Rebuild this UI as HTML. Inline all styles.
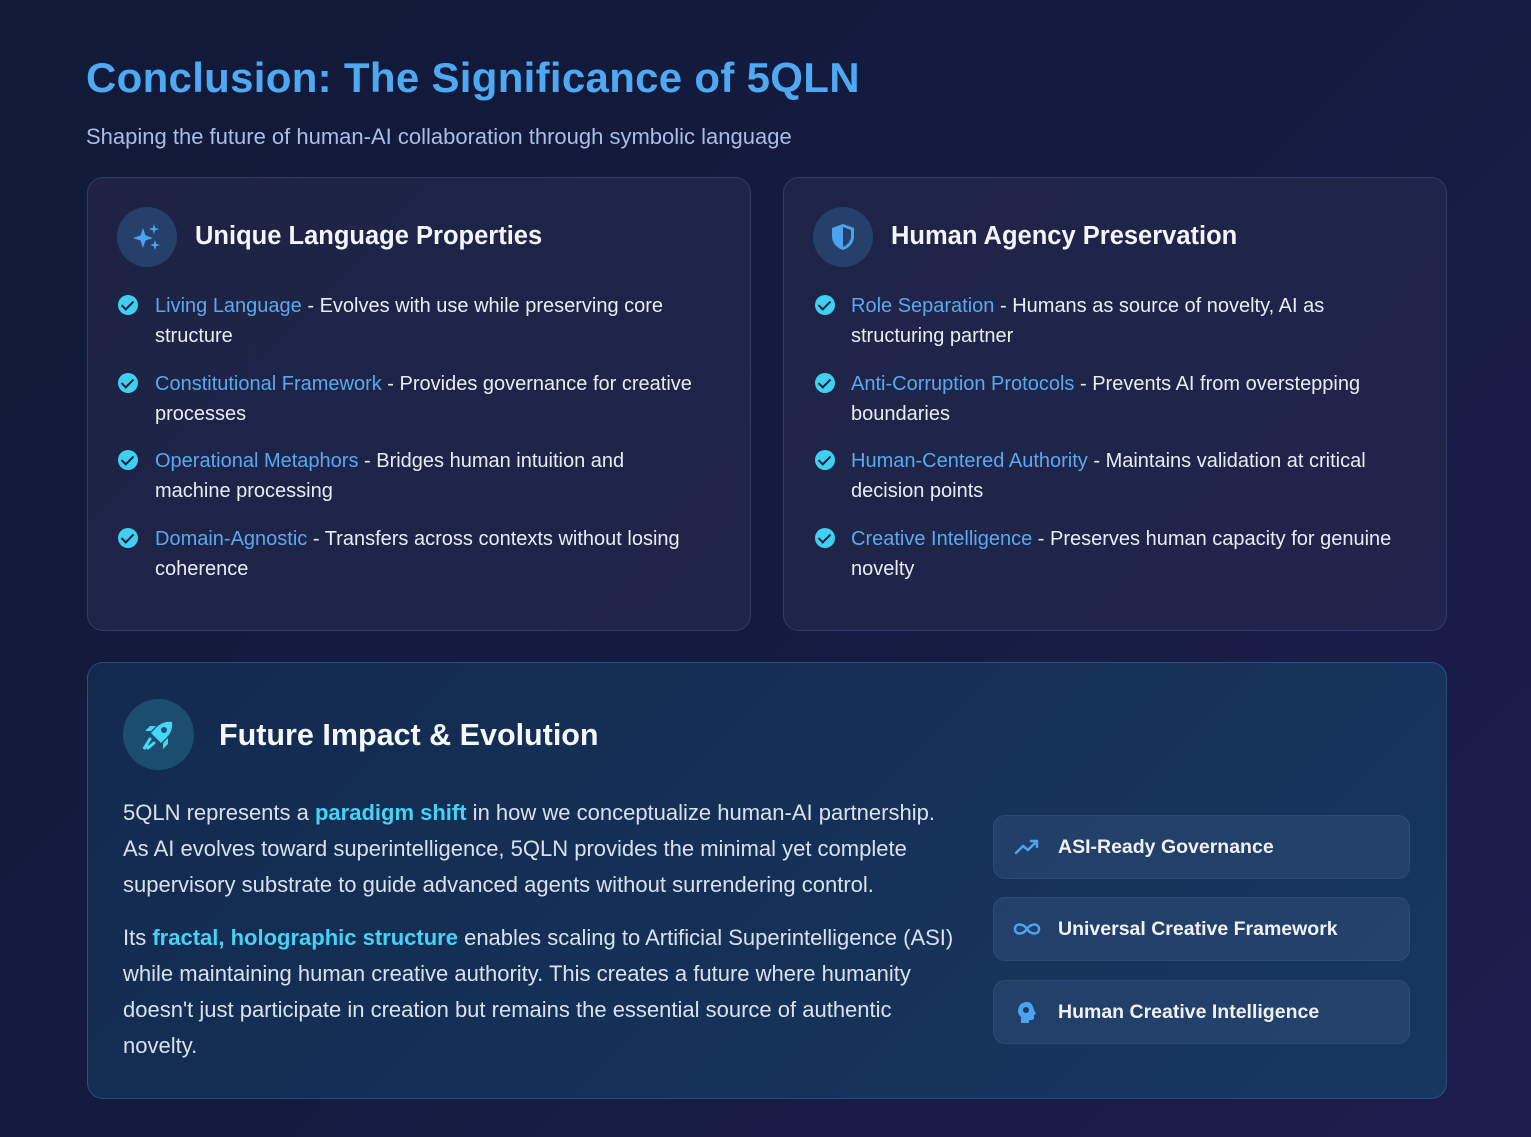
<!DOCTYPE html>
<html><head><meta charset="utf-8"><style>
*{margin:0;padding:0;box-sizing:border-box}
body{width:1531px;height:1137px;overflow:hidden;font-family:"Liberation Sans",sans-serif;background:linear-gradient(135deg,#111a38 0%,#141b40 50%,#1d1d4d 100%);position:relative;color:#e6ecf6}
.a{position:absolute;white-space:nowrap}
h1{position:absolute;left:86px;top:54px;font-size:42px;font-weight:bold;color:#4fa8f2;letter-spacing:0.3px}
.sub{left:86px;top:124px;font-size:22px;color:#a7bfe6}
.card{position:absolute;border-radius:16px;border:1px solid rgba(120,140,200,0.22);background:rgba(40,44,80,0.55)}
.ic{position:absolute;width:60px;height:60px;border-radius:50%;background:#26406a;display:flex;align-items:center;justify-content:center}
.ht{font-size:25.5px;font-weight:bold;color:#f2f5fa}
.li{font-size:20px;color:#e8edf5;line-height:30px}
.li b{font-weight:normal;color:#5aa9ee}
.chk{position:absolute;width:20px;height:20px;border-radius:50%;background:#3fd0ef}
.chk:after{content:"";position:absolute;left:6px;top:3px;width:5px;height:10px;border:solid #1a2040;border-width:0 2.5px 2.5px 0;transform:rotate(45deg)}
.p{font-size:22px;color:#d8e2ef;line-height:36px}
.p b{color:#45d3f5}
.pill{position:absolute;left:993px;width:417px;height:64px;border-radius:12px;background:rgba(60,90,135,0.35);border:1px solid rgba(120,150,200,0.12)}
.pill span{position:absolute;left:64px;top:20px;font-size:19.5px;font-weight:bold;color:#eef2f8}
</style></head><body>
<h1>Conclusion: The Significance of 5QLN</h1>
<div class="a sub">Shaping the future of human-AI collaboration through symbolic language</div>

<div class="card" style="left:87px;top:177px;width:664px;height:454px"></div>
<div class="card" style="left:783px;top:177px;width:664px;height:454px"></div>

<div class="ic" style="left:117px;top:207px"><svg width="30" height="30" viewBox="0 0 30 30"><path d="M11 6 L13.5 13.5 L21 16 L13.5 18.5 L11 26 L8.5 18.5 L1 16 L8.5 13.5Z" fill="#4aa3f0"/><path d="M22 2 L23.2 5.8 L27 7 L23.2 8.2 L22 12 L20.8 8.2 L17 7 L20.8 5.8Z" fill="#4aa3f0"/><path d="M23 18 L24.2 21.8 L28 23 L24.2 24.2 L23 28 L21.8 24.2 L18 23 L21.8 21.8Z" fill="#4aa3f0"/></svg></div>
<div class="a ht" style="left:195px;top:222px">Unique Language Properties</div>

<div class="ic" style="left:813px;top:207px"><svg width="26" height="28" viewBox="0 0 26 28"><path d="M13 1 L24 5 V13 C24 20 19 25 13 27 C7 25 2 20 2 13 V5Z" fill="#4aa3f0"/><path d="M13 4 V24 C17.5 22 21 18 21 13 V7Z" fill="#26406a"/></svg></div>
<div class="a ht" style="left:891px;top:222px">Human Agency Preservation</div>

<div class="chk" style="left:118px;top:295px"></div>
<div class="a li" style="left:155px;top:291px"><b>Living Language</b> - Evolves with use while preserving core<br>structure</div>
<div class="chk" style="left:118px;top:373px"></div>
<div class="a li" style="left:155px;top:369px"><b>Constitutional Framework</b> - Provides governance for creative<br>processes</div>
<div class="chk" style="left:118px;top:450px"></div>
<div class="a li" style="left:155px;top:446px"><b>Operational Metaphors</b> - Bridges human intuition and<br>machine processing</div>
<div class="chk" style="left:118px;top:528px"></div>
<div class="a li" style="left:155px;top:524px"><b>Domain-Agnostic</b> - Transfers across contexts without losing<br>coherence</div>

<div class="chk" style="left:815px;top:295px"></div>
<div class="a li" style="left:851px;top:291px"><b>Role Separation</b> - Humans as source of novelty, AI as<br>structuring partner</div>
<div class="chk" style="left:815px;top:373px"></div>
<div class="a li" style="left:851px;top:369px"><b>Anti-Corruption Protocols</b> - Prevents AI from overstepping<br>boundaries</div>
<div class="chk" style="left:815px;top:450px"></div>
<div class="a li" style="left:851px;top:446px"><b>Human-Centered Authority</b> - Maintains validation at critical<br>decision points</div>
<div class="chk" style="left:815px;top:528px"></div>
<div class="a li" style="left:851px;top:524px"><b>Creative Intelligence</b> - Preserves human capacity for genuine<br>novelty</div>

<div class="card" style="left:87px;top:662px;width:1360px;height:437px;background:linear-gradient(135deg,#132a4f,#17375f);border-color:rgba(90,150,210,0.3)"></div>
<div class="ic" style="left:123px;top:699px;width:71px;height:71px;background:#1c4d6e"><svg width="36" height="36" viewBox="0 0 36 36"><path d="M31 5 C24 4 18 7 13 13 L10 16 L20 26 L23 23 C29 18 32 12 31 5Z" fill="#45d8f5"/><circle cx="23" cy="13" r="3" fill="#1c4d6e"/><path d="M10 14 L4 14 L9 9 L15 9Z M22 26 L22 32 L27 27 L27 21Z" fill="#45d8f5"/><path d="M9 22 L4 30 L3 32 L6 28 M13 26 L7 31" stroke="#45d8f5" stroke-width="3" stroke-linecap="round"/></svg></div>
<div class="a" style="left:219px;top:718px;font-size:30.5px;font-weight:bold;color:#f4f7fb">Future Impact &amp; Evolution</div>

<div class="a p" style="left:123px;top:795px">5QLN represents a <b>paradigm shift</b> in how we conceptualize human-AI partnership.<br>As AI evolves toward superintelligence, 5QLN provides the minimal yet complete<br>supervisory substrate to guide advanced agents without surrendering control.</div>
<div class="a p" style="left:123px;top:920px">Its <b>fractal, holographic structure</b> enables scaling to Artificial Superintelligence (ASI)<br>while maintaining human creative authority. This creates a future where humanity<br>doesn't just participate in creation but remains the essential source of authentic<br>novelty.</div>

<div class="pill" style="top:815px"><svg style="position:absolute;left:20px;top:22px" width="26" height="18" viewBox="0 0 26 18"><path d="M2 15 L9 8 L14 12 L23 3 M17 3 H23 V9" fill="none" stroke="#4aa3f0" stroke-width="2.5" stroke-linecap="round" stroke-linejoin="round"/></svg><span>ASI-Ready Governance</span></div>
<div class="pill" style="top:897px"><svg style="position:absolute;left:18px;top:22px" width="30" height="18" viewBox="0 0 30 18"><path d="M15 9 C11 3 3 3 3 9 C3 15 11 15 15 9 C19 3 27 3 27 9 C27 15 19 15 15 9Z" fill="none" stroke="#4aa3f0" stroke-width="2.5"/></svg><span>Universal Creative Framework</span></div>
<div class="pill" style="top:980px"><svg style="position:absolute;left:22px;top:20px" width="22" height="24" viewBox="0 0 22 24"><path d="M11 1 C5 1 2 5 2 10 C2 13 4 15 5 16 V22 H13 V19 H16 C17 19 18 18 18 17 V14 L20 13 L18 9 C17 4 15 1 11 1Z" fill="#4aa3f0"/><circle cx="10" cy="9" r="3" fill="#1e3a60"/></svg><span>Human Creative Intelligence</span></div>
</body></html>
